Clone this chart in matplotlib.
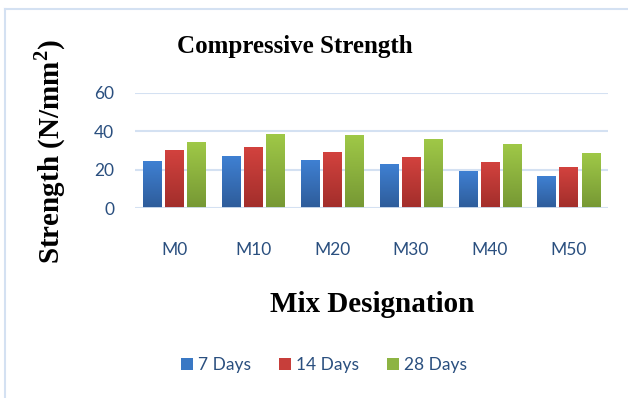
import numpy as np
import matplotlib.pyplot as plt
from matplotlib.colors import LinearSegmentedColormap

plt.rcParams['font.family'] = ['Lato', 'DejaVu Sans']

mixes = ['M0', 'M10', 'M20', 'M30', 'M40', 'M50']
days7 = [24.0, 26.6, 24.6, 22.5, 18.9, 16.3]
days14 = [29.8, 31.3, 28.7, 26.1, 23.5, 20.9]
days28 = [33.9, 38.1, 37.5, 35.5, 32.9, 28.2]
series_names = ['7 Days', '14 Days', '28 Days']
y_ticks = [0, 20, 40, 60]

colors = ['#3A78C4', '#C73E3A', '#8DB443']
# top / bottom shades for the gradient fill
shades = [('#3F80D2', '#2E5C9A'), ('#D2423E', '#A22E2B'), ('#9FC847', '#769834')]
text_blue = '#2A4F7F'
grid_col = '#D4E1F2'

fig = plt.figure(figsize=(6.28, 3.98), dpi=100)
ax = fig.add_axes([0.215, 0.4766, 0.753, 0.2905])

x = np.arange(len(mixes))
w = 0.23
step = 0.28
grad = np.linspace(1, 0, 64).reshape(-1, 1)
for i, vals in enumerate([days7, days14, days28]):
    bars = ax.bar(x + (i - 1) * step, vals, w, color=colors[i], label=series_names[i], zorder=3)
    cmap = LinearSegmentedColormap.from_list('g%d' % i, [shades[i][1], shades[i][0]])
    for b in bars:
        bx, bw, bh = b.get_x(), b.get_width(), b.get_height()
        ax.imshow(grad, extent=[bx, bx + bw, 0, bh], aspect='auto', cmap=cmap,
                  vmin=0, vmax=1, zorder=3.5, origin='upper')

ax.set_xlim(-0.5, len(mixes) - 0.5)
ax.set_ylim(0, 60)
ax.set_yticks(y_ticks)
ax.set_xticks(x)
ax.set_xticklabels(mixes)
ax.tick_params(length=0, labelsize=12.5, labelcolor=text_blue, colors=text_blue)
ax.tick_params(axis='x', pad=24)
ax.tick_params(axis='y', pad=15)
ax.grid(axis='y', color=grid_col, linewidth=1.5, zorder=0)
for s in ax.spines.values():
    s.set_visible(False)
ax.axhline(0, color=grid_col, linewidth=2, zorder=4)

fig.text(0.47, 0.884, 'Compressive Strength', ha='center', va='center',
         family='Liberation Serif', weight='bold', fontsize=18)
fig.text(0.08, 0.618, 'Strength (N/mm$^\\mathregular{2}$)', ha='center', va='center',
         rotation=90, family='Liberation Serif', weight='bold', fontsize=21)
fig.text(0.593, 0.234, 'Mix Designation', ha='center', va='center',
         family='Liberation Serif', weight='bold', fontsize=21)

leg = fig.legend(loc='center', bbox_to_anchor=(0.516, 0.083), ncol=3, frameon=False,
                 handlelength=0.7, handleheight=0.7, handletextpad=0.3, columnspacing=1.6,
                 prop={'family': 'Lato', 'size': 12.5})
for t in leg.get_texts():
    t.set_color(text_blue)

# outer chart frame (only top and left edges visible)
fig.add_artist(plt.Line2D([0.008, 0.008], [0, 0.978], color=grid_col, linewidth=1.5))
fig.add_artist(plt.Line2D([0.008, 1], [0.978, 0.978], color=grid_col, linewidth=1.5))

fig.savefig('out.png', dpi=100)
